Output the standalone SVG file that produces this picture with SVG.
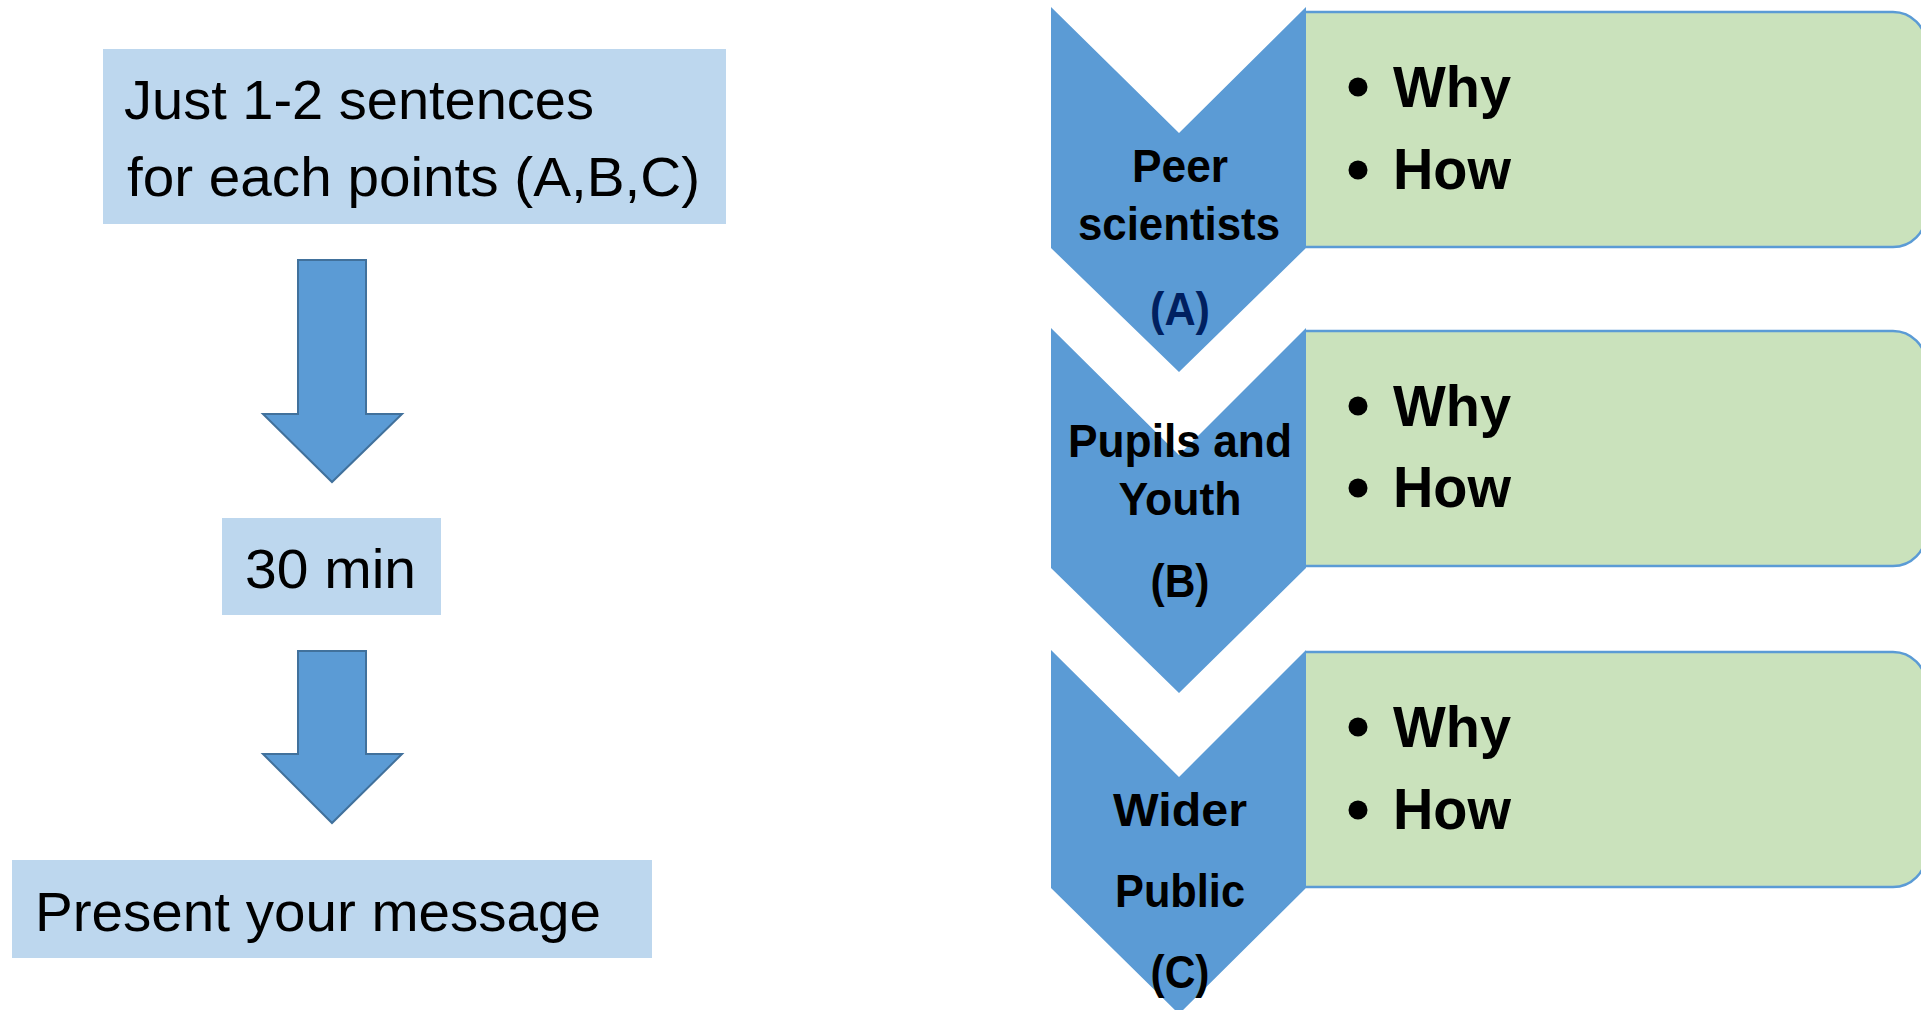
<svg xmlns="http://www.w3.org/2000/svg" width="1921" height="1010" viewBox="0 0 1921 1010">
<style>
.box{fill:#BDD7EE;}
.arrow{fill:#5B9BD5;stroke:#41719C;stroke-width:2;}
.chev{fill:#5B9BD5;}
.green{fill:#CAE2BC;stroke:#5B9BD5;stroke-width:2.5;}
.lt{font-family:"Liberation Sans",Arial,sans-serif;font-size:56px;fill:#000;}
.cl{font-family:"Liberation Sans",Arial,sans-serif;font-size:46px;font-weight:bold;fill:#000;text-anchor:middle;}
.bt{font-family:"Liberation Sans",Arial,sans-serif;font-size:57px;font-weight:bold;fill:#000;}
.dot{fill:#000;}
</style>
<rect width="1921" height="1010" fill="#FFFFFF"/>

<g id="box-sentences">
<rect class="box" x="103" y="49" width="623" height="175"/>
<text class="lt" x="124" y="119" textLength="470" lengthAdjust="spacingAndGlyphs">Just 1-2 sentences</text>
<text class="lt" x="127" y="196" textLength="573" lengthAdjust="spacingAndGlyphs">for each points (A,B,C)</text>
</g>

<g id="box-30min">
<rect class="box" x="222" y="518" width="219" height="97"/>
<text class="lt" x="245" y="588" textLength="171" lengthAdjust="spacingAndGlyphs">30 min</text>
</g>

<g id="box-present">
<rect class="box" x="12" y="860" width="640" height="98"/>
<text class="lt" x="35" y="931" textLength="566" lengthAdjust="spacingAndGlyphs">Present your message</text>
</g>

<g id="connectors">
<polygon class="arrow" points="298,260 366,260 366,414 402,414 332,482 263,414 298,414"/>
<polygon class="arrow" points="298,651 366,651 366,754 402,754 332,823 263,754 298,754"/>
</g>

<g id="node-A">
<path class="green" d="M1306,12 H1893 A33,33 0 0 1 1926,45 V214 A33,33 0 0 1 1893,247 H1306"/>
<polygon class="chev" points="1051,7 1179,133 1306,7 1306,248 1179,372 1051,248"/>
<text class="cl" x="1180" y="182" textLength="96" lengthAdjust="spacingAndGlyphs">Peer</text>
<text class="cl" x="1179" y="240" textLength="202" lengthAdjust="spacingAndGlyphs">scientists</text>
<text class="cl" x="1180" y="325" textLength="60" lengthAdjust="spacingAndGlyphs" style="fill:#002060">(A)</text>
<circle class="dot" cx="1358" cy="87" r="9.5"/>
<text class="bt" x="1393" y="107" textLength="118" lengthAdjust="spacingAndGlyphs">Why</text>
<circle class="dot" cx="1358" cy="170" r="9.5"/>
<text class="bt" x="1393" y="189" textLength="118" lengthAdjust="spacingAndGlyphs">How</text>
</g>

<g id="node-B">
<path class="green" d="M1306,331 H1893 A33,33 0 0 1 1926,364 V533 A33,33 0 0 1 1893,566 H1306"/>
<polygon class="chev" points="1051,328 1179,455 1306,328 1306,568 1179,693 1051,568"/>
<text class="cl" x="1180" y="457" textLength="224" lengthAdjust="spacingAndGlyphs">Pupils and</text>
<text class="cl" x="1180" y="515" textLength="123" lengthAdjust="spacingAndGlyphs">Youth</text>
<text class="cl" x="1180" y="597" textLength="59" lengthAdjust="spacingAndGlyphs">(B)</text>
<circle class="dot" cx="1358" cy="406" r="9.5"/>
<text class="bt" x="1393" y="426" textLength="118" lengthAdjust="spacingAndGlyphs">Why</text>
<circle class="dot" cx="1358" cy="488" r="9.5"/>
<text class="bt" x="1393" y="507" textLength="118" lengthAdjust="spacingAndGlyphs">How</text>
</g>

<g id="node-C">
<path class="green" d="M1306,652 H1893 A33,33 0 0 1 1926,685 V854 A33,33 0 0 1 1893,887 H1306"/>
<polygon class="chev" points="1051,650 1179,777 1306,650 1306,888 1179,1014 1051,888"/>
<text class="cl" x="1180" y="826" textLength="134" lengthAdjust="spacingAndGlyphs">Wider</text>
<text class="cl" x="1180" y="907" textLength="130" lengthAdjust="spacingAndGlyphs">Public</text>
<text class="cl" x="1180" y="988" textLength="59" lengthAdjust="spacingAndGlyphs">(C)</text>
<circle class="dot" cx="1358" cy="727" r="9.5"/>
<text class="bt" x="1393" y="747" textLength="118" lengthAdjust="spacingAndGlyphs">Why</text>
<circle class="dot" cx="1358" cy="810" r="9.5"/>
<text class="bt" x="1393" y="829" textLength="118" lengthAdjust="spacingAndGlyphs">How</text>
</g>
</svg>
